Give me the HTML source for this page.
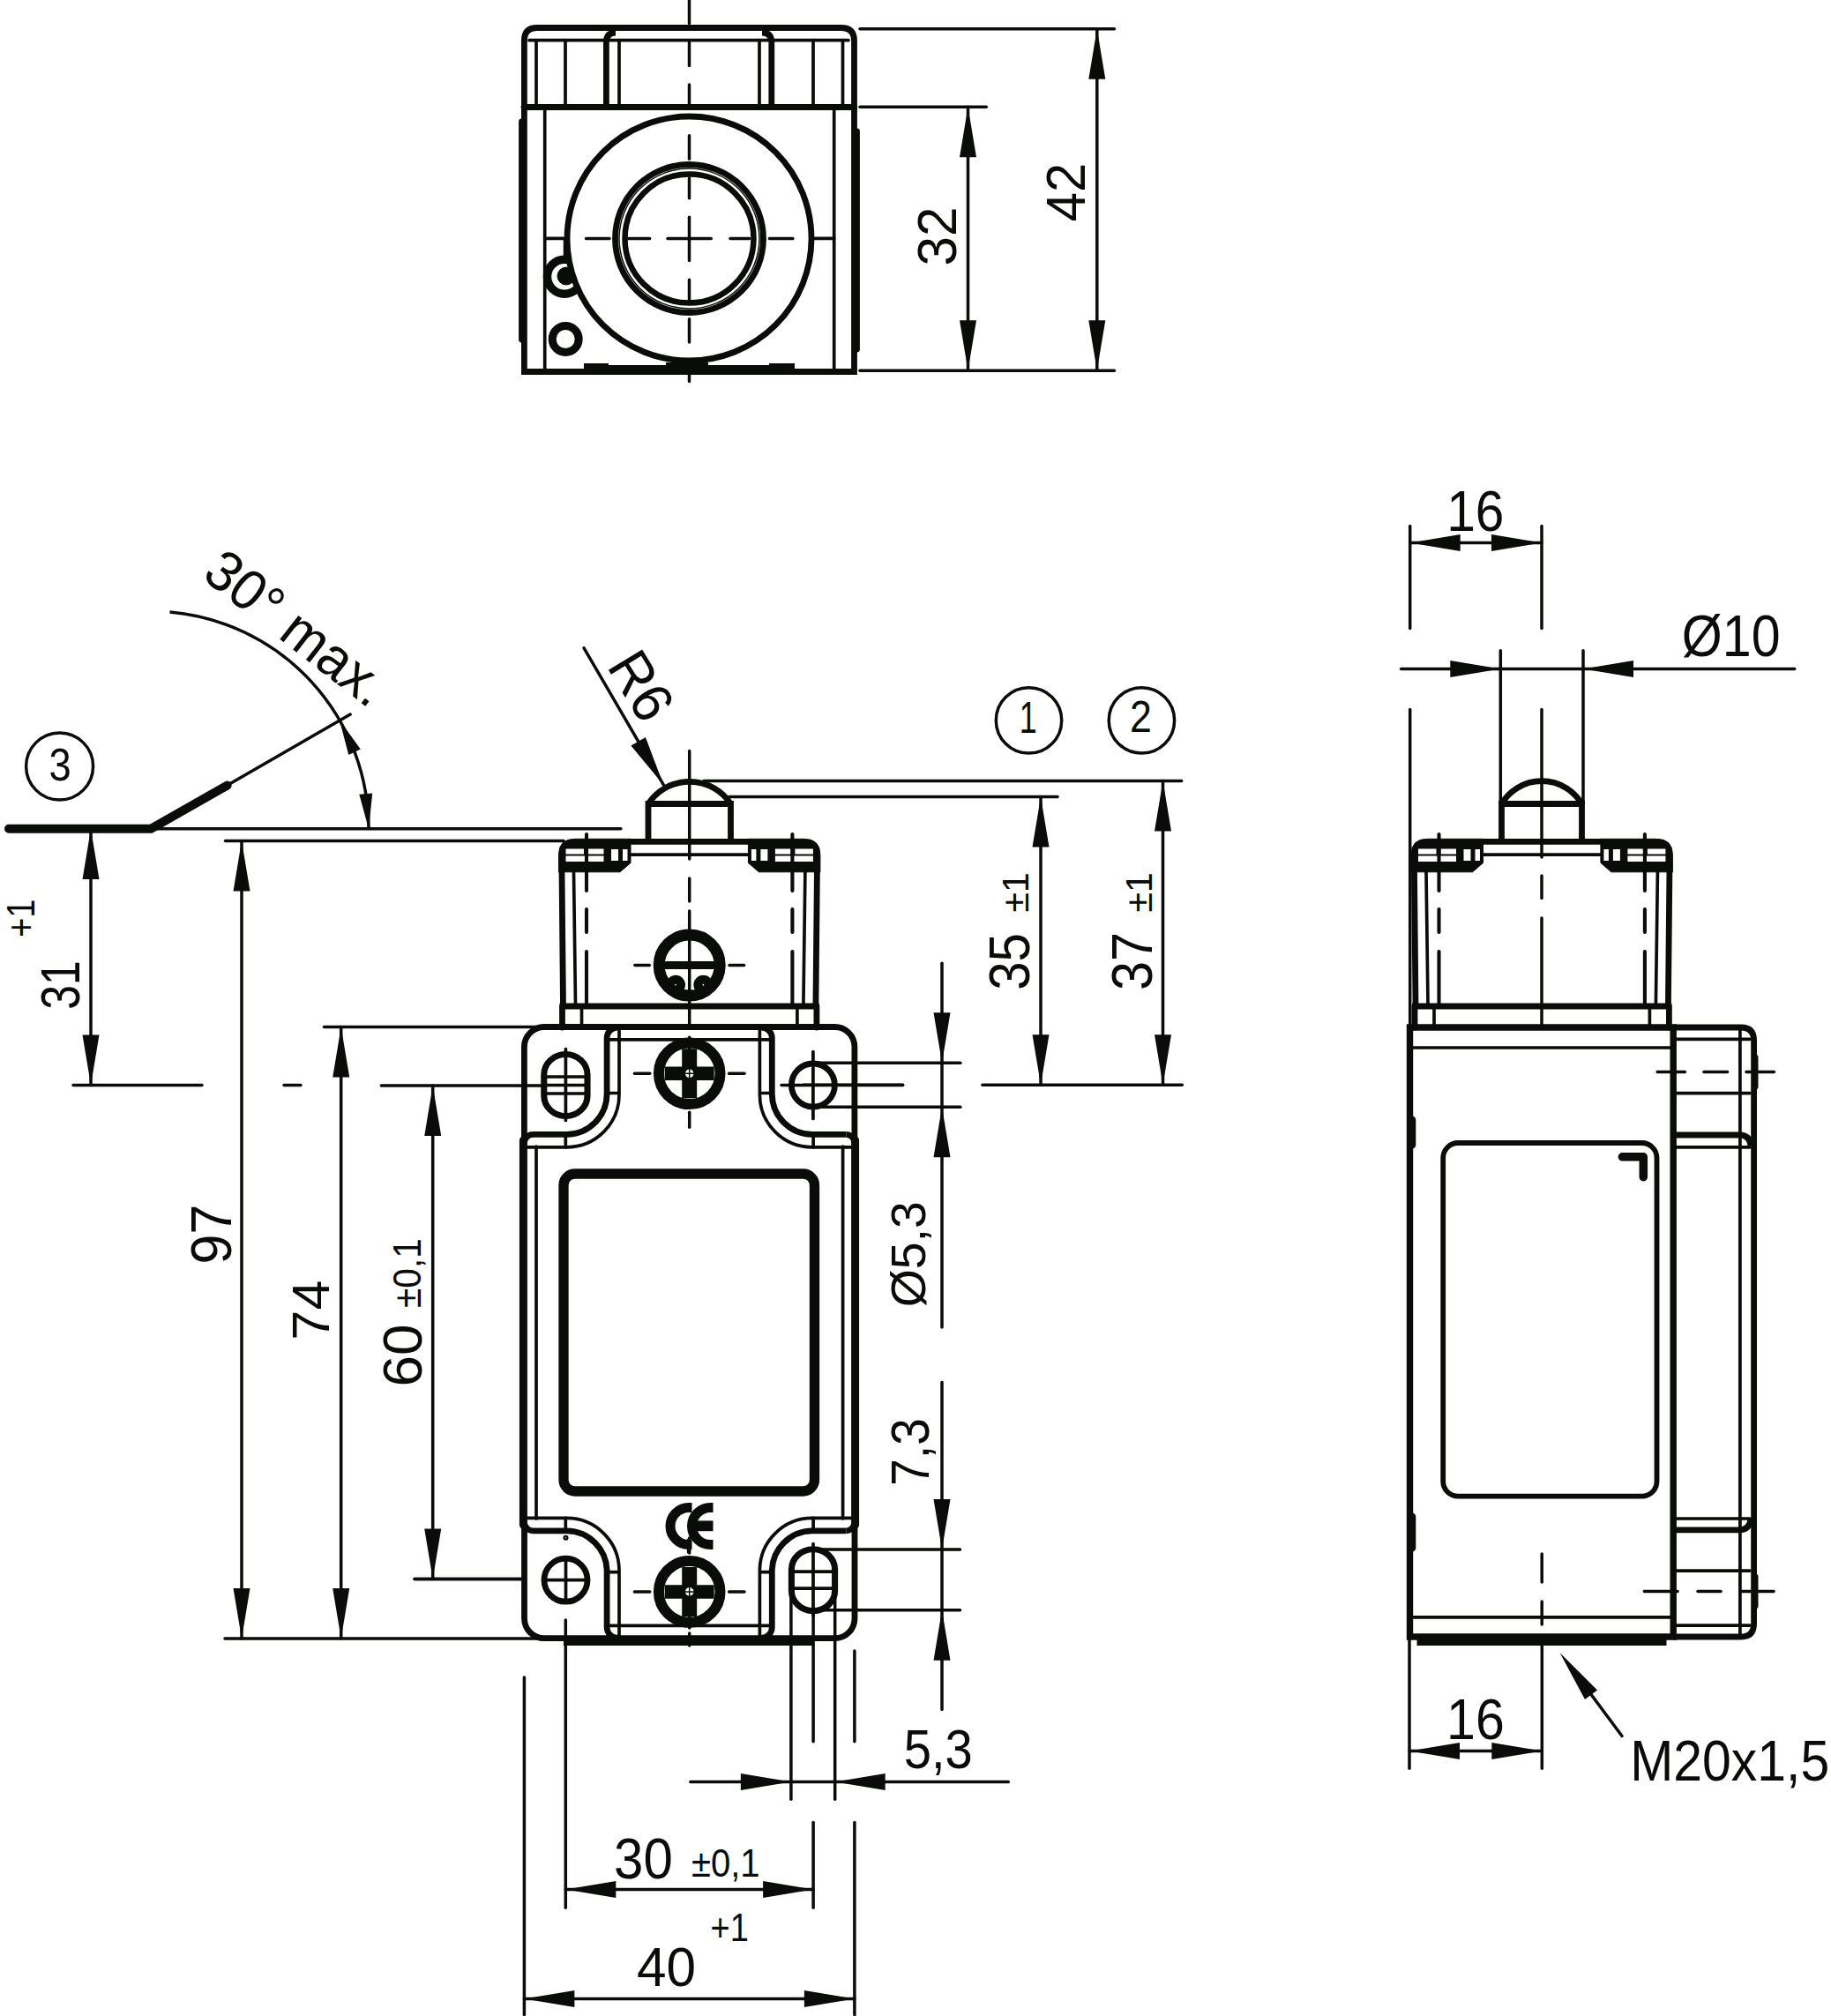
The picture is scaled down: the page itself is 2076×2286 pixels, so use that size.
<!DOCTYPE html><html><head><meta charset="utf-8"><style>html,body{margin:0;padding:0;background:#fff;}svg{display:block} text{font-family:"Liberation Sans",sans-serif;fill:#0a0c0a;stroke:none}</style></head><body>
<svg width="2076" height="2286" viewBox="0 0 2076 2286"><g stroke="#0a0c0a" fill="none">
<rect x="0" y="0" width="2076" height="2286" fill="#fff" stroke="none"/>
<path d="M594.4,121.5 L594.4,46 Q594.4,31.5 609,31.5 L953.5,31.5 Q968.5,31.5 968.5,46 L968.5,421.5 L594.4,421.5 Z" stroke-width="6.8" fill="none" />
<line x1="594.0" y1="121.5" x2="968.5" y2="121.5" stroke-width="6.8" stroke-linecap="round"/>
<line x1="600.0" y1="45.7" x2="962.0" y2="45.7" stroke-width="3.7" stroke-linecap="round"/>
<line x1="608.0" y1="45.7" x2="608.0" y2="121.5" stroke-width="3.7" stroke-linecap="round"/>
<line x1="641.0" y1="45.7" x2="641.0" y2="121.5" stroke-width="3.7" stroke-linecap="round"/>
<line x1="702.0" y1="45.7" x2="702.0" y2="121.5" stroke-width="3.7" stroke-linecap="round"/>
<line x1="861.0" y1="45.7" x2="861.0" y2="121.5" stroke-width="3.7" stroke-linecap="round"/>
<line x1="922.0" y1="45.7" x2="922.0" y2="121.5" stroke-width="3.7" stroke-linecap="round"/>
<line x1="955.5" y1="45.7" x2="955.5" y2="121.5" stroke-width="3.7" stroke-linecap="round"/>
<path d="M687.4,121.5 L687.4,48 Q687.4,37 698,37" stroke-width="6.8" fill="none" />
<path d="M874.8,121.5 L874.8,48 Q874.8,37 864,37" stroke-width="6.8" fill="none" />
<line x1="591.5" y1="138.0" x2="591.5" y2="385.0" stroke-width="6.8" stroke-linecap="round"/>
<line x1="971.5" y1="149.0" x2="971.5" y2="396.0" stroke-width="6.8" stroke-linecap="round"/>
<line x1="617.7" y1="121.5" x2="617.7" y2="421.5" stroke-width="3.7" stroke-linecap="round"/>
<line x1="945.7" y1="121.5" x2="945.7" y2="421.5" stroke-width="3.7" stroke-linecap="round"/>
<line x1="617.7" y1="270.4" x2="640.0" y2="270.4" stroke-width="3.7" stroke-linecap="round"/>
<line x1="923.0" y1="270.4" x2="945.7" y2="270.4" stroke-width="3.7" stroke-linecap="round"/>
<circle cx="640.0" cy="313.7" r="19.5" stroke-width="9.5" fill="none"/>
<circle cx="642.0" cy="313.0" r="10.0" stroke-width="1" fill="#0a0c0a"/>
<line x1="642.0" y1="270.0" x2="642.0" y2="291.0" stroke-width="6.5" stroke-linecap="butt"/>
<circle cx="641.2" cy="384.5" r="15.0" stroke-width="9" fill="none"/>
<circle cx="781.5" cy="270.5" r="138.5" stroke-width="6.8" fill="#fff"/>
<circle cx="781.5" cy="270.5" r="84.0" stroke-width="6.8" fill="none"/>
<circle cx="781.5" cy="270.5" r="73.0" stroke-width="6.5" fill="none"/>
<circle cx="781.5" cy="270.5" r="79.5" stroke-width="1.5" fill="none"/>
<rect x="662.0" y="414.0" width="238.0" height="7.0" fill="#0a0c0a" stroke="none"/>
<rect x="662.0" y="412.0" width="28.0" height="10.0" fill="#0a0c0a" stroke="none"/>
<rect x="872.0" y="412.0" width="29.0" height="10.0" fill="#0a0c0a" stroke="none"/>
<rect x="755.0" y="411.0" width="48.0" height="11.0" fill="#0a0c0a" stroke="none"/>
<line x1="781.5" y1="0.0" x2="781.5" y2="26.4" stroke-width="3.5" stroke-linecap="round"/>
<line x1="781.5" y1="48.0" x2="781.5" y2="74.5" stroke-width="3.5" stroke-linecap="round"/>
<line x1="781.5" y1="96.0" x2="781.5" y2="122.6" stroke-width="3.5" stroke-linecap="round"/>
<line x1="781.5" y1="153.8" x2="781.5" y2="180.2" stroke-width="3.5" stroke-linecap="round"/>
<line x1="781.5" y1="201.9" x2="781.5" y2="224.7" stroke-width="3.5" stroke-linecap="round"/>
<line x1="781.5" y1="246.3" x2="781.5" y2="295.6" stroke-width="3.5" stroke-linecap="round"/>
<line x1="781.5" y1="317.2" x2="781.5" y2="340.0" stroke-width="3.5" stroke-linecap="round"/>
<line x1="781.5" y1="361.7" x2="781.5" y2="388.1" stroke-width="3.5" stroke-linecap="round"/>
<line x1="781.5" y1="408.6" x2="781.5" y2="432.6" stroke-width="3.5" stroke-linecap="round"/>
<line x1="664.5" y1="270.5" x2="691.0" y2="270.5" stroke-width="3.5" stroke-linecap="round"/>
<line x1="712.6" y1="270.5" x2="736.6" y2="270.5" stroke-width="3.5" stroke-linecap="round"/>
<line x1="757.0" y1="270.5" x2="806.3" y2="270.5" stroke-width="3.5" stroke-linecap="round"/>
<line x1="828.0" y1="270.5" x2="849.6" y2="270.5" stroke-width="3.5" stroke-linecap="round"/>
<line x1="872.4" y1="270.5" x2="898.9" y2="270.5" stroke-width="3.5" stroke-linecap="round"/>
<line x1="975.0" y1="32.7" x2="1263.4" y2="32.7" stroke-width="3.5" stroke-linecap="round"/>
<line x1="975.0" y1="121.2" x2="1118.3" y2="121.2" stroke-width="3.5" stroke-linecap="round"/>
<line x1="975.0" y1="420.2" x2="1263.4" y2="420.2" stroke-width="3.5" stroke-linecap="round"/>
<line x1="1097.5" y1="121.2" x2="1097.5" y2="420.2" stroke-width="3.5" stroke-linecap="round"/>
<path d="M1097.5,121.2 L1107.0,178.2 L1088.0,178.2 Z" fill="#0a0c0a" stroke="none"/>
<path d="M1097.5,420.2 L1088.0,363.2 L1107.0,363.2 Z" fill="#0a0c0a" stroke="none"/>
<line x1="1243.8" y1="32.7" x2="1243.8" y2="420.2" stroke-width="3.5" stroke-linecap="round"/>
<path d="M1243.8,32.7 L1253.3,89.7 L1234.3,89.7 Z" fill="#0a0c0a" stroke="none"/>
<path d="M1243.8,420.2 L1234.3,363.2 L1253.3,363.2 Z" fill="#0a0c0a" stroke="none"/>
<text transform="translate(1062.50,268.00) rotate(-90) scale(0.9649,1)" font-size="62.38" text-anchor="middle" dominant-baseline="central">32</text>
<text transform="translate(1208.50,218.00) rotate(-90) scale(0.9526,1)" font-size="62.72" text-anchor="middle" dominant-baseline="central">42</text>
<path d="M10,939.8 L171,939.8 L257.6,890.6" stroke-width="10" fill="none" stroke-linecap="round" stroke-linejoin="round"/>
<line x1="257.6" y1="890.6" x2="397.2" y2="810.0" stroke-width="3.5" stroke-linecap="round"/>
<line x1="171.0" y1="939.8" x2="703.9" y2="939.8" stroke-width="3.5" stroke-linecap="round"/>
<path d="M192.5,693.9 A247,247 0 0 1 418.0,940.0" stroke-width="3.5" fill="none" />
<path d="M384.9,816.5 L408.8,849.4 L395.3,855.9 Z" fill="#0a0c0a" stroke="none"/>
<path d="M418.0,940.0 L407.3,900.7 L422.2,899.5 Z" fill="#0a0c0a" stroke="none"/>
<circle cx="67.6" cy="869.0" r="38.0" stroke-width="3.5" fill="none"/>
<text transform="translate(68.00,866.70) rotate(0) scale(0.8591,1)" font-size="52.64" text-anchor="middle" dominant-baseline="central">3</text>
<text transform="translate(337.05,711.70) rotate(38) scale(0.9500,1)" font-size="64.54" text-anchor="middle" dominant-baseline="central">30° max.</text>
<line x1="103.0" y1="940.0" x2="103.0" y2="1230.5" stroke-width="3.5" stroke-linecap="round"/>
<path d="M103.0,940.0 L112.5,997.0 L93.5,997.0 Z" fill="#0a0c0a" stroke="none"/>
<path d="M103.0,1230.5 L93.5,1173.5 L112.5,1173.5 Z" fill="#0a0c0a" stroke="none"/>
<line x1="83.0" y1="1230.5" x2="229.0" y2="1230.5" stroke-width="3.5" stroke-linecap="round"/>
<text transform="translate(68.30,1116.90) rotate(-90) scale(0.7964,1)" font-size="62.72" text-anchor="middle" dominant-baseline="central">31</text>
<text transform="translate(23.90,1041.20) rotate(-90) scale(0.8562,1)" font-size="44.34" text-anchor="middle" dominant-baseline="central">+1</text>
<line x1="255.6" y1="953.6" x2="639.0" y2="953.6" stroke-width="3.5" stroke-linecap="round"/>
<line x1="274.0" y1="953.6" x2="274.0" y2="1858.0" stroke-width="3.5" stroke-linecap="round"/>
<path d="M274.0,953.6 L283.5,1010.6 L264.5,1010.6 Z" fill="#0a0c0a" stroke="none"/>
<path d="M274.0,1858.0 L264.5,1801.0 L283.5,1801.0 Z" fill="#0a0c0a" stroke="none"/>
<line x1="255.0" y1="1858.0" x2="618.0" y2="1858.0" stroke-width="3.5" stroke-linecap="round"/>
<text transform="translate(239.10,1399.60) rotate(-90) scale(0.9488,1)" font-size="64.11" text-anchor="middle" dominant-baseline="central">97</text>
<line x1="367.5" y1="1164.5" x2="612.0" y2="1164.5" stroke-width="3.5" stroke-linecap="round"/>
<line x1="386.7" y1="1164.5" x2="386.7" y2="1858.0" stroke-width="3.5" stroke-linecap="round"/>
<path d="M386.7,1164.5 L396.2,1221.5 L377.2,1221.5 Z" fill="#0a0c0a" stroke="none"/>
<path d="M386.7,1858.0 L377.2,1801.0 L396.2,1801.0 Z" fill="#0a0c0a" stroke="none"/>
<text transform="translate(352.60,1485.50) rotate(-90) scale(1.0405,1)" font-size="58.59" text-anchor="middle" dominant-baseline="central">74</text>
<line x1="432.3" y1="1231.0" x2="616.0" y2="1231.0" stroke-width="3.5" stroke-linecap="round"/>
<line x1="490.7" y1="1231.0" x2="490.7" y2="1790.5" stroke-width="3.5" stroke-linecap="round"/>
<path d="M490.7,1231.0 L500.2,1288.0 L481.2,1288.0 Z" fill="#0a0c0a" stroke="none"/>
<path d="M490.7,1790.5 L481.2,1733.5 L500.2,1733.5 Z" fill="#0a0c0a" stroke="none"/>
<line x1="470.0" y1="1790.5" x2="593.0" y2="1790.5" stroke-width="3.5" stroke-linecap="round"/>
<text transform="translate(456.10,1537.00) rotate(-90) scale(1.0049,1)" font-size="63.60" text-anchor="middle" dominant-baseline="central">60</text>
<text transform="translate(461.60,1443.60) rotate(-90) scale(0.9310,1)" font-size="43.59" text-anchor="middle" dominant-baseline="central">±0,1</text>
<line x1="322.0" y1="1230.5" x2="341.0" y2="1230.5" stroke-width="3.5" stroke-linecap="round"/>
<path d="M735,953.5 L735,911.5 L828.5,911.5 L828.5,953.5" stroke-width="6.8" fill="none" />
<path d="M735,911.5 A56,56 0 0 1 828.5,911.5" stroke-width="6.8" fill="none" />
<line x1="781.7" y1="851.4" x2="781.7" y2="974.0" stroke-width="3.5" stroke-linecap="round"/>
<line x1="662.1" y1="734.8" x2="752.3" y2="889.9" stroke-width="3.5" stroke-linecap="round"/>
<path d="M752.3,889.9 L715.4,845.4 L731.9,835.9 Z" fill="#0a0c0a" stroke="none"/>
<text transform="translate(727.70,777.25) rotate(58.5) scale(0.9500,1)" font-size="65.13" text-anchor="middle" dominant-baseline="central">R6</text>
<line x1="798.0" y1="885.5" x2="1339.6" y2="885.5" stroke-width="3.5" stroke-linecap="round"/>
<line x1="826.8" y1="903.4" x2="1199.0" y2="903.4" stroke-width="3.5" stroke-linecap="round"/>
<circle cx="1166.5" cy="816.9" r="37.2" stroke-width="3.5" fill="none"/>
<circle cx="1294.4" cy="816.9" r="37.2" stroke-width="3.5" fill="none"/>
<text transform="translate(1165.70,814.00) rotate(0) scale(0.7260,1)" font-size="49.46" text-anchor="middle" dominant-baseline="central">1</text>
<text transform="translate(1293.50,812.70) rotate(0) scale(0.8889,1)" font-size="50.34" text-anchor="middle" dominant-baseline="central">2</text>
<line x1="1113.9" y1="1230.3" x2="1340.3" y2="1230.3" stroke-width="3.5" stroke-linecap="round"/>
<line x1="1180.0" y1="903.4" x2="1180.0" y2="1230.3" stroke-width="3.5" stroke-linecap="round"/>
<path d="M1180.0,903.4 L1189.5,960.4 L1170.5,960.4 Z" fill="#0a0c0a" stroke="none"/>
<path d="M1180.0,1230.3 L1170.5,1173.3 L1189.5,1173.3 Z" fill="#0a0c0a" stroke="none"/>
<line x1="1318.5" y1="885.5" x2="1318.5" y2="1230.3" stroke-width="3.5" stroke-linecap="round"/>
<path d="M1318.5,885.5 L1328.0,942.5 L1309.0,942.5 Z" fill="#0a0c0a" stroke="none"/>
<path d="M1318.5,1230.3 L1309.0,1173.3 L1328.0,1173.3 Z" fill="#0a0c0a" stroke="none"/>
<text transform="translate(1144.50,1090.50) rotate(-90) scale(0.8990,1)" font-size="64.74" text-anchor="middle" dominant-baseline="central">35</text>
<text transform="translate(1151.50,1011.90) rotate(-90) scale(0.9469,1)" font-size="43.15" text-anchor="middle" dominant-baseline="central">±1</text>
<text transform="translate(1283.90,1089.90) rotate(-90) scale(0.9174,1)" font-size="64.74" text-anchor="middle" dominant-baseline="central">37</text>
<text transform="translate(1290.90,1011.90) rotate(-90) scale(0.9469,1)" font-size="43.15" text-anchor="middle" dominant-baseline="central">±1</text>
<line x1="911.0" y1="1230.3" x2="1023.6" y2="1230.3" stroke-width="3.5" stroke-linecap="round"/>
<path d="M633.5,988.8 L633.5,969 Q633.5,951.3 652.0,951.3 L715.0,951.3 L715.0,978.4 L703.0,988.8 Z" stroke-width="1" fill="#0a0c0a" />
<rect x="641.5" y="962.5" width="20.5" height="6.0" fill="#fff" stroke="none"/>
<rect x="667.0" y="962.5" width="17.5" height="6.0" fill="#fff" stroke="none"/>
<rect x="641.5" y="970.5" width="43.0" height="6.5" fill="#fff" stroke="none"/>
<rect x="693.0" y="963.0" width="8.0" height="13.0" fill="#fff" stroke="none"/>
<rect x="706.0" y="963.0" width="5.5" height="13.0" fill="#fff" stroke="none"/>
<line x1="637.0" y1="988.0" x2="638.5" y2="1141.0" stroke-width="6.8" stroke-linecap="round"/>
<line x1="650.5" y1="989.0" x2="652.5" y2="1139.0" stroke-width="3.7" stroke-linecap="round"/>
<line x1="665.0" y1="946.0" x2="665.0" y2="1010.0" stroke-width="4.1" stroke-linecap="round"/>
<line x1="665.0" y1="1031.0" x2="665.0" y2="1057.0" stroke-width="4.1" stroke-linecap="round"/>
<line x1="665.0" y1="1079.0" x2="665.0" y2="1139.0" stroke-width="4.1" stroke-linecap="round"/>
<line x1="637.5" y1="1141.0" x2="637.5" y2="1165.0" stroke-width="6.8" stroke-linecap="round"/>
<line x1="659.5" y1="1141.0" x2="659.5" y2="1165.0" stroke-width="3.7" stroke-linecap="round"/>
<path d="M929.9,988.8 L929.9,969 Q929.9,951.3 911.4,951.3 L848.4,951.3 L848.4,978.4 L860.4,988.8 Z" stroke-width="1" fill="#0a0c0a" />
<rect x="901.4" y="962.5" width="20.5" height="6.0" fill="#fff" stroke="none"/>
<rect x="878.9" y="962.5" width="17.5" height="6.0" fill="#fff" stroke="none"/>
<rect x="878.9" y="970.5" width="43.0" height="6.5" fill="#fff" stroke="none"/>
<rect x="862.4" y="963.0" width="8.0" height="13.0" fill="#fff" stroke="none"/>
<rect x="851.9" y="963.0" width="5.5" height="13.0" fill="#fff" stroke="none"/>
<line x1="926.4" y1="988.0" x2="924.9" y2="1141.0" stroke-width="6.8" stroke-linecap="round"/>
<line x1="912.9" y1="989.0" x2="910.9" y2="1139.0" stroke-width="3.7" stroke-linecap="round"/>
<line x1="898.4" y1="946.0" x2="898.4" y2="1010.0" stroke-width="4.1" stroke-linecap="round"/>
<line x1="898.4" y1="1031.0" x2="898.4" y2="1057.0" stroke-width="4.1" stroke-linecap="round"/>
<line x1="898.4" y1="1079.0" x2="898.4" y2="1139.0" stroke-width="4.1" stroke-linecap="round"/>
<line x1="925.9" y1="1141.0" x2="925.9" y2="1165.0" stroke-width="6.8" stroke-linecap="round"/>
<line x1="903.9" y1="1141.0" x2="903.9" y2="1165.0" stroke-width="3.7" stroke-linecap="round"/>
<line x1="715.7" y1="954.3" x2="847.7" y2="954.3" stroke-width="6.8" stroke-linecap="round"/>
<line x1="715.7" y1="969.1" x2="847.7" y2="969.1" stroke-width="3.7" stroke-linecap="round"/>
<line x1="634.7" y1="1141.0" x2="928.7" y2="1141.0" stroke-width="6.8" stroke-linecap="butt"/>
<line x1="781.7" y1="996.0" x2="781.7" y2="1022.0" stroke-width="3.5" stroke-linecap="round"/>
<line x1="781.7" y1="1033.0" x2="781.7" y2="1053.0" stroke-width="3.5" stroke-linecap="round"/>
<circle cx="781.7" cy="1094.6" r="34.5" stroke-width="13" fill="none"/>
<line x1="755.7" y1="1094.6" x2="808.0" y2="1094.6" stroke-width="9" stroke-linecap="round"/>
<line x1="781.7" y1="1060.0" x2="781.7" y2="1166.0" stroke-width="3.5" stroke-linecap="round"/>
<circle cx="766.0" cy="1116.8" r="8.0" stroke-width="6" fill="#0a0c0a"/>
<circle cx="797.4" cy="1116.8" r="8.0" stroke-width="6" fill="#0a0c0a"/>
<circle cx="766.0" cy="1116.8" r="1.3" stroke-width="1" fill="#fff"/>
<circle cx="797.4" cy="1116.8" r="1.3" stroke-width="1" fill="#fff"/>
<line x1="719.8" y1="1094.6" x2="736.3" y2="1094.6" stroke-width="3.5" stroke-linecap="round"/>
<line x1="827.0" y1="1094.6" x2="843.6" y2="1094.6" stroke-width="3.5" stroke-linecap="round"/>
<path d="M604.0,1286.4 L642.5,1286.4 A46,46 0 0 0 688.1,1240.0 L688.1,1177.0 A12,12 0 0 1 700.0,1165.0" stroke-width="6.8" fill="none" />
<path d="M604.0,1286.4 A10,10 0 0 0 594.4,1296.0" stroke-width="6.8" fill="none" />
<path d="M596.8,1300.8 L642.5,1300.8 A59.5,59.5 0 0 0 702.0,1241.3 L702.0,1165.0" stroke-width="3.7" fill="none" />
<line x1="691.0" y1="1239.5" x2="701.0" y2="1239.5" stroke-width="3.7" stroke-linecap="round"/>
<line x1="641.3" y1="1286.0" x2="641.3" y2="1300.8" stroke-width="3.7" stroke-linecap="round"/>
<path d="M959.4,1286.4 L920.9,1286.4 A46,46 0 0 1 875.3,1240.0 L875.3,1177.0 A12,12 0 0 0 863.4,1165.0" stroke-width="6.8" fill="none" />
<path d="M959.4,1286.4 A10,10 0 0 1 969.0,1296.0" stroke-width="6.8" fill="none" />
<path d="M966.6,1300.8 L920.9,1300.8 A59.5,59.5 0 0 1 861.4,1241.3 L861.4,1165.0" stroke-width="3.7" fill="none" />
<line x1="872.4" y1="1239.5" x2="862.4" y2="1239.5" stroke-width="3.7" stroke-linecap="round"/>
<line x1="922.1" y1="1286.0" x2="922.1" y2="1300.8" stroke-width="3.7" stroke-linecap="round"/>
<path d="M594.4,1293.0 L594.4,1187.0 A22.5,22.5 0 0 1 617.0,1164.5 L946.0,1164.5 A22.5,22.5 0 0 1 968.9,1187.0 L968.9,1293.0" stroke-width="6.8" fill="none" />
<path d="M616.8,1218.5 A24.6,23 0 0 1 666.0,1218.5 L666.0,1242.5 A24.6,23 0 0 1 616.8,1242.5 Z" stroke-width="7.1" fill="none" />
<line x1="619.4" y1="1221.0" x2="663.4" y2="1221.0" stroke-width="3.7" stroke-linecap="round"/>
<line x1="619.4" y1="1230.5" x2="663.4" y2="1230.5" stroke-width="3.7" stroke-linecap="round"/>
<line x1="619.4" y1="1240.0" x2="663.4" y2="1240.0" stroke-width="3.7" stroke-linecap="round"/>
<line x1="641.4" y1="1189.5" x2="641.4" y2="1270.5" stroke-width="3.7" stroke-linecap="round"/>
<circle cx="921.9" cy="1230.5" r="24.5" stroke-width="6.8" fill="none"/>
<line x1="921.9" y1="1192.5" x2="921.9" y2="1204.5" stroke-width="3.7" stroke-linecap="round"/>
<line x1="921.9" y1="1210.5" x2="921.9" y2="1250.5" stroke-width="3.7" stroke-linecap="round"/>
<line x1="921.9" y1="1256.5" x2="921.9" y2="1268.5" stroke-width="3.7" stroke-linecap="round"/>
<circle cx="781.7" cy="1217.3" r="34.8" stroke-width="12" fill="none"/>
<line x1="753.7" y1="1217.3" x2="809.7" y2="1217.3" stroke-width="15.5" stroke-linecap="butt"/>
<line x1="781.7" y1="1189.3" x2="781.7" y2="1245.3" stroke-width="17" stroke-linecap="butt"/>
<circle cx="781.7" cy="1217.3" r="5.7" stroke-width="1.8" fill="#fff"/>
<line x1="776.7" y1="1217.3" x2="786.7" y2="1217.3" stroke-width="1.5" stroke-linecap="round"/>
<line x1="781.7" y1="1212.3" x2="781.7" y2="1222.3" stroke-width="1.5" stroke-linecap="round"/>
<line x1="719.4" y1="1217.3" x2="736.8" y2="1217.3" stroke-width="3.5" stroke-linecap="round"/>
<line x1="826.6" y1="1217.3" x2="844.0" y2="1217.3" stroke-width="3.5" stroke-linecap="round"/>
<line x1="781.7" y1="1176.3" x2="781.7" y2="1193.3" stroke-width="3.5" stroke-linecap="round"/>
<line x1="781.7" y1="1261.3" x2="781.7" y2="1278.3" stroke-width="3.5" stroke-linecap="round"/>
<line x1="691.0" y1="1178.8" x2="872.4" y2="1178.8" stroke-width="3.7" stroke-linecap="round"/>
<path d="M959.4,1735.8 L920.9,1735.8 A46,46 0 0 0 875.3,1782.2 L875.3,1845.2 A12,12 0 0 1 863.4,1857.2" stroke-width="6.8" fill="none" />
<path d="M959.4,1735.8 A10,10 0 0 0 969.0,1726.2" stroke-width="6.8" fill="none" />
<path d="M966.6,1721.4 L920.9,1721.4 A59.5,59.5 0 0 0 861.4,1780.9 L861.4,1857.2" stroke-width="3.7" fill="none" />
<line x1="872.4" y1="1782.7" x2="862.4" y2="1782.7" stroke-width="3.7" stroke-linecap="round"/>
<line x1="922.1" y1="1736.2" x2="922.1" y2="1721.4" stroke-width="3.7" stroke-linecap="round"/>
<path d="M604.0,1735.8 L642.5,1735.8 A46,46 0 0 1 688.1,1782.2 L688.1,1845.2 A12,12 0 0 0 700.0,1857.2" stroke-width="6.8" fill="none" />
<path d="M604.0,1735.8 A10,10 0 0 1 594.4,1726.2" stroke-width="6.8" fill="none" />
<path d="M596.8,1721.4 L642.5,1721.4 A59.5,59.5 0 0 1 702.0,1780.9 L702.0,1857.2" stroke-width="3.7" fill="none" />
<line x1="691.0" y1="1782.7" x2="701.0" y2="1782.7" stroke-width="3.7" stroke-linecap="round"/>
<line x1="641.3" y1="1736.2" x2="641.3" y2="1721.4" stroke-width="3.7" stroke-linecap="round"/>
<path d="M969.0,1729.2 L969.0,1835.2 A22.5,22.5 0 0 1 946.4,1857.7 L617.4,1857.7 A22.5,22.5 0 0 1 594.5,1835.2 L594.5,1729.2" stroke-width="6.8" fill="none" />
<path d="M897.4,1779.7 A24.6,23 0 0 1 946.6,1779.7 L946.6,1803.7 A24.6,23 0 0 1 897.4,1803.7 Z" stroke-width="7.1" fill="none" />
<line x1="900.0" y1="1782.2" x2="944.0" y2="1782.2" stroke-width="3.7" stroke-linecap="round"/>
<line x1="900.0" y1="1801.2" x2="944.0" y2="1801.2" stroke-width="3.7" stroke-linecap="round"/>
<line x1="922.0" y1="1750.7" x2="922.0" y2="1831.7" stroke-width="3.7" stroke-linecap="round"/>
<circle cx="641.5" cy="1791.7" r="24.5" stroke-width="6.8" fill="none"/>
<line x1="619.5" y1="1791.7" x2="663.5" y2="1791.7" stroke-width="3.7" stroke-linecap="round"/>
<line x1="641.5" y1="1769.7" x2="641.5" y2="1813.7" stroke-width="3.7" stroke-linecap="round"/>
<circle cx="641.5" cy="1743.7" r="1.2" stroke-width="3.7" fill="none"/>
<circle cx="781.7" cy="1804.9" r="34.8" stroke-width="12" fill="none"/>
<line x1="753.7" y1="1804.9" x2="809.7" y2="1804.9" stroke-width="15.5" stroke-linecap="butt"/>
<line x1="781.7" y1="1776.9" x2="781.7" y2="1832.9" stroke-width="17" stroke-linecap="butt"/>
<circle cx="781.7" cy="1804.9" r="5.7" stroke-width="1.8" fill="#fff"/>
<line x1="776.7" y1="1804.9" x2="786.7" y2="1804.9" stroke-width="1.5" stroke-linecap="round"/>
<line x1="781.7" y1="1799.9" x2="781.7" y2="1809.9" stroke-width="1.5" stroke-linecap="round"/>
<line x1="719.4" y1="1804.9" x2="736.8" y2="1804.9" stroke-width="3.5" stroke-linecap="round"/>
<line x1="826.6" y1="1804.9" x2="844.0" y2="1804.9" stroke-width="3.5" stroke-linecap="round"/>
<line x1="781.7" y1="1743.9" x2="781.7" y2="1760.9" stroke-width="3.5" stroke-linecap="round"/>
<line x1="781.7" y1="1828.9" x2="781.7" y2="1845.9" stroke-width="3.5" stroke-linecap="round"/>
<line x1="872.4" y1="1843.4" x2="691.0" y2="1843.4" stroke-width="3.7" stroke-linecap="round"/>
<line x1="593.4" y1="1293.0" x2="593.4" y2="1729.0" stroke-width="9" stroke-linecap="round"/>
<line x1="969.6" y1="1293.0" x2="969.6" y2="1729.0" stroke-width="9" stroke-linecap="round"/>
<line x1="608.0" y1="1300.0" x2="608.0" y2="1722.0" stroke-width="3.7" stroke-linecap="round"/>
<line x1="955.6" y1="1300.0" x2="955.6" y2="1722.0" stroke-width="3.7" stroke-linecap="round"/>
<rect x="639" y="1331" width="284.5" height="360" rx="13" ry="13" stroke-width="11.3" fill="none"/>
<rect x="639.0" y="1855.5" width="284.0" height="10.5" fill="#0a0c0a" stroke="none"/>
<path d="M784.5,1709.5 L781,1709.5 A21,21 0 0 0 781,1751.5 L784.5,1751.5" stroke-width="11" fill="none" stroke-linejoin="round"/>
<path d="M808.5,1709.5 L805.5,1709.5 A21,21 0 0 0 805.5,1751.5 L808.5,1751.5" stroke-width="11" fill="none" stroke-linejoin="round"/>
<line x1="790.0" y1="1730.3" x2="808.5" y2="1730.3" stroke-width="11.8" stroke-linecap="butt"/>
<line x1="780.7" y1="1746.0" x2="780.7" y2="1760.0" stroke-width="3.7" stroke-linecap="round"/>
<line x1="781.7" y1="1852.0" x2="781.7" y2="1866.0" stroke-width="3.5" stroke-linecap="round"/>
<line x1="927.0" y1="1205.3" x2="1088.9" y2="1205.3" stroke-width="3.5" stroke-linecap="round"/>
<line x1="927.0" y1="1255.3" x2="1088.9" y2="1255.3" stroke-width="3.5" stroke-linecap="round"/>
<line x1="886.0" y1="1230.5" x2="1023.6" y2="1230.5" stroke-width="3.5" stroke-linecap="round"/>
<line x1="1068.0" y1="1092.2" x2="1068.0" y2="1255.3" stroke-width="3.5" stroke-linecap="round"/>
<path d="M1068.0,1205.3 L1058.5,1148.3 L1077.5,1148.3 Z" fill="#0a0c0a" stroke="none"/>
<line x1="1068.0" y1="1255.3" x2="1068.0" y2="1505.0" stroke-width="3.5" stroke-linecap="round"/>
<path d="M1068.0,1255.3 L1077.5,1312.3 L1058.5,1312.3 Z" fill="#0a0c0a" stroke="none"/>
<text transform="translate(1029.90,1422.30) rotate(-90) scale(0.9905,1)" font-size="55.93" text-anchor="middle" dominant-baseline="central">Ø5,3</text>
<line x1="1068.0" y1="1567.5" x2="1068.0" y2="1825.8" stroke-width="3.5" stroke-linecap="round"/>
<path d="M1068.0,1757.0 L1058.5,1700.0 L1077.5,1700.0 Z" fill="#0a0c0a" stroke="none"/>
<line x1="930.0" y1="1757.0" x2="1088.5" y2="1757.0" stroke-width="3.5" stroke-linecap="round"/>
<line x1="930.0" y1="1825.8" x2="1088.5" y2="1825.8" stroke-width="3.5" stroke-linecap="round"/>
<line x1="1068.0" y1="1825.8" x2="1068.0" y2="1938.5" stroke-width="3.5" stroke-linecap="round"/>
<path d="M1068.0,1825.8 L1077.5,1882.8 L1058.5,1882.8 Z" fill="#0a0c0a" stroke="none"/>
<text transform="translate(1031.50,1646.50) rotate(-90) scale(0.8899,1)" font-size="61.70" text-anchor="middle" dominant-baseline="central">7,3</text>
<line x1="594.4" y1="1902.0" x2="594.4" y2="2284.4" stroke-width="3.5" stroke-linecap="round"/>
<line x1="641.3" y1="1837.0" x2="641.3" y2="2163.2" stroke-width="3.5" stroke-linecap="round"/>
<line x1="896.9" y1="1810.0" x2="896.9" y2="2040.3" stroke-width="3.5" stroke-linecap="round"/>
<line x1="946.7" y1="1808.0" x2="946.7" y2="2040.3" stroke-width="3.5" stroke-linecap="round"/>
<line x1="922.1" y1="1826.0" x2="922.1" y2="1974.7" stroke-width="3.5" stroke-linecap="round"/>
<line x1="922.1" y1="2066.5" x2="922.1" y2="2163.2" stroke-width="3.5" stroke-linecap="round"/>
<line x1="968.9" y1="1872.0" x2="968.9" y2="1974.7" stroke-width="3.5" stroke-linecap="round"/>
<line x1="968.9" y1="2066.5" x2="968.9" y2="2284.4" stroke-width="3.5" stroke-linecap="round"/>
<line x1="782.8" y1="2020.6" x2="1143.3" y2="2020.6" stroke-width="3.5" stroke-linecap="round"/>
<path d="M896.9,2020.6 L839.9,2030.1 L839.9,2011.1 Z" fill="#0a0c0a" stroke="none"/>
<path d="M946.7,2020.6 L1003.7,2011.1 L1003.7,2030.1 Z" fill="#0a0c0a" stroke="none"/>
<text transform="translate(1063.80,1983.70) rotate(0) scale(0.8822,1)" font-size="63.68" text-anchor="middle" dominant-baseline="central">5,3</text>
<line x1="641.3" y1="2142.5" x2="922.1" y2="2142.5" stroke-width="3.5" stroke-linecap="round"/>
<path d="M641.3,2142.5 L698.3,2133.0 L698.3,2152.0 Z" fill="#0a0c0a" stroke="none"/>
<path d="M922.1,2142.5 L865.1,2152.0 L865.1,2133.0 Z" fill="#0a0c0a" stroke="none"/>
<text transform="translate(729.40,2107.10) rotate(0) scale(0.9221,1)" font-size="65.05" text-anchor="middle" dominant-baseline="central">30</text>
<text transform="translate(822.80,2113.20) rotate(0) scale(0.9085,1)" font-size="44.07" text-anchor="middle" dominant-baseline="central">±0,1</text>
<line x1="594.4" y1="2266.4" x2="968.9" y2="2266.4" stroke-width="3.5" stroke-linecap="round"/>
<path d="M594.4,2266.4 L651.4,2256.9 L651.4,2275.9 Z" fill="#0a0c0a" stroke="none"/>
<path d="M968.9,2266.4 L911.9,2275.9 L911.9,2256.9 Z" fill="#0a0c0a" stroke="none"/>
<text transform="translate(755.60,2230.00) rotate(0) scale(0.9480,1)" font-size="63.60" text-anchor="middle" dominant-baseline="central">40</text>
<text transform="translate(827.10,2186.00) rotate(0) scale(0.8528,1)" font-size="44.52" text-anchor="middle" dominant-baseline="central">+1</text>
<line x1="470.0" y1="1790.5" x2="593.0" y2="1790.5" stroke-width="3.5" stroke-linecap="round"/>
<line x1="1598.7" y1="596.5" x2="1598.7" y2="712.4" stroke-width="3.5" stroke-linecap="round"/>
<line x1="1748.0" y1="596.5" x2="1748.0" y2="712.4" stroke-width="3.5" stroke-linecap="round"/>
<line x1="1598.7" y1="615.6" x2="1748.0" y2="615.6" stroke-width="3.5" stroke-linecap="round"/>
<path d="M1598.7,615.6 L1655.7,606.1 L1655.7,625.1 Z" fill="#0a0c0a" stroke="none"/>
<path d="M1748.0,615.6 L1691.0,625.1 L1691.0,606.1 Z" fill="#0a0c0a" stroke="none"/>
<text transform="translate(1672.80,579.50) rotate(0) scale(0.9144,1)" font-size="64.11" text-anchor="middle" dominant-baseline="central">16</text>
<line x1="1598.7" y1="804.5" x2="1598.7" y2="1165.0" stroke-width="3.5" stroke-linecap="round"/>
<line x1="1748.0" y1="804.5" x2="1748.0" y2="972.0" stroke-width="3.5" stroke-linecap="round"/>
<line x1="1748.0" y1="993.0" x2="1748.0" y2="1018.5" stroke-width="3.5" stroke-linecap="round"/>
<line x1="1748.0" y1="1041.0" x2="1748.0" y2="1165.0" stroke-width="3.5" stroke-linecap="round"/>
<line x1="1701.3" y1="737.8" x2="1701.3" y2="911.0" stroke-width="3.5" stroke-linecap="round"/>
<line x1="1795.0" y1="737.8" x2="1795.0" y2="911.0" stroke-width="3.5" stroke-linecap="round"/>
<line x1="1588.6" y1="758.5" x2="2034.7" y2="758.5" stroke-width="3.5" stroke-linecap="round"/>
<path d="M1701.3,758.5 L1644.3,768.0 L1644.3,749.0 Z" fill="#0a0c0a" stroke="none"/>
<path d="M1795.0,758.5 L1852.0,749.0 L1852.0,768.0 Z" fill="#0a0c0a" stroke="none"/>
<text transform="translate(1962.70,721.10) rotate(0) scale(0.8972,1)" font-size="65.90" text-anchor="middle" dominant-baseline="central">Ø10</text>
<path d="M1702.5,953.5 L1702.5,911.5 L1793.5,911.5 L1793.5,953.5" stroke-width="6.8" fill="none" />
<path d="M1702.5,911.5 A53,53 0 0 1 1793.5,911.5" stroke-width="6.8" fill="none" />
<path d="M1600.0,988.8 L1600.0,969 Q1600.0,951.3 1618.5,951.3 L1681.5,951.3 L1681.5,978.4 L1669.5,988.8 Z" stroke-width="1" fill="#0a0c0a" />
<rect x="1608.0" y="962.5" width="20.5" height="6.0" fill="#fff" stroke="none"/>
<rect x="1633.5" y="962.5" width="17.5" height="6.0" fill="#fff" stroke="none"/>
<rect x="1608.0" y="970.5" width="43.0" height="6.5" fill="#fff" stroke="none"/>
<rect x="1659.5" y="963.0" width="8.0" height="13.0" fill="#fff" stroke="none"/>
<rect x="1672.5" y="963.0" width="5.5" height="13.0" fill="#fff" stroke="none"/>
<line x1="1603.5" y1="988.0" x2="1605.0" y2="1141.0" stroke-width="6.8" stroke-linecap="round"/>
<line x1="1617.0" y1="989.0" x2="1619.0" y2="1139.0" stroke-width="3.7" stroke-linecap="round"/>
<line x1="1631.5" y1="946.0" x2="1631.5" y2="1010.0" stroke-width="4.1" stroke-linecap="round"/>
<line x1="1631.5" y1="1031.0" x2="1631.5" y2="1057.0" stroke-width="4.1" stroke-linecap="round"/>
<line x1="1631.5" y1="1079.0" x2="1631.5" y2="1139.0" stroke-width="4.1" stroke-linecap="round"/>
<line x1="1604.0" y1="1141.0" x2="1604.0" y2="1165.0" stroke-width="6.8" stroke-linecap="round"/>
<line x1="1626.0" y1="1141.0" x2="1626.0" y2="1165.0" stroke-width="3.7" stroke-linecap="round"/>
<path d="M1896.4,988.8 L1896.4,969 Q1896.4,951.3 1877.9,951.3 L1814.9,951.3 L1814.9,978.4 L1826.9,988.8 Z" stroke-width="1" fill="#0a0c0a" />
<rect x="1867.9" y="962.5" width="20.5" height="6.0" fill="#fff" stroke="none"/>
<rect x="1845.4" y="962.5" width="17.5" height="6.0" fill="#fff" stroke="none"/>
<rect x="1845.4" y="970.5" width="43.0" height="6.5" fill="#fff" stroke="none"/>
<rect x="1828.9" y="963.0" width="8.0" height="13.0" fill="#fff" stroke="none"/>
<rect x="1818.4" y="963.0" width="5.5" height="13.0" fill="#fff" stroke="none"/>
<line x1="1892.9" y1="988.0" x2="1891.4" y2="1141.0" stroke-width="6.8" stroke-linecap="round"/>
<line x1="1879.4" y1="989.0" x2="1877.4" y2="1139.0" stroke-width="3.7" stroke-linecap="round"/>
<line x1="1864.9" y1="946.0" x2="1864.9" y2="1010.0" stroke-width="4.1" stroke-linecap="round"/>
<line x1="1864.9" y1="1031.0" x2="1864.9" y2="1057.0" stroke-width="4.1" stroke-linecap="round"/>
<line x1="1864.9" y1="1079.0" x2="1864.9" y2="1139.0" stroke-width="4.1" stroke-linecap="round"/>
<line x1="1892.4" y1="1141.0" x2="1892.4" y2="1165.0" stroke-width="6.8" stroke-linecap="round"/>
<line x1="1870.4" y1="1141.0" x2="1870.4" y2="1165.0" stroke-width="3.7" stroke-linecap="round"/>
<line x1="1682.2" y1="954.3" x2="1814.2" y2="954.3" stroke-width="6.8" stroke-linecap="round"/>
<line x1="1682.2" y1="969.1" x2="1814.2" y2="969.1" stroke-width="3.7" stroke-linecap="round"/>
<line x1="1601.2" y1="1141.0" x2="1895.2" y2="1141.0" stroke-width="6.8" stroke-linecap="butt"/>
<path d="M1598.5,1165 L1598.5,1856 L1897.2,1856 L1897.2,1165 Z" stroke-width="7.3999999999999995" fill="none" />
<line x1="1598.0" y1="1188.0" x2="1897.0" y2="1188.0" stroke-width="3.7" stroke-linecap="round"/>
<line x1="1598.0" y1="1833.8" x2="1897.0" y2="1833.8" stroke-width="3.7" stroke-linecap="round"/>
<rect x="1606.5" y="1857.0" width="283.0" height="9.0" fill="#0a0c0a" stroke="none"/>
<line x1="1600.8" y1="1270.0" x2="1600.8" y2="1298.0" stroke-width="9" stroke-linecap="round"/>
<line x1="1600.8" y1="1720.0" x2="1600.8" y2="1755.0" stroke-width="9" stroke-linecap="round"/>
<path d="M1897.2,1165 L1974,1165 Q1988.6,1165 1988.6,1180 L1988.6,1841 Q1988.6,1856 1974,1856 L1897.2,1856" stroke-width="6.8" fill="none" />
<line x1="1972.9" y1="1165.0" x2="1972.9" y2="1856.0" stroke-width="3.7" stroke-linecap="round"/>
<line x1="1897.0" y1="1178.3" x2="1984.0" y2="1178.3" stroke-width="3.7" stroke-linecap="round"/>
<line x1="1897.0" y1="1239.6" x2="1984.0" y2="1239.6" stroke-width="3.7" stroke-linecap="round"/>
<line x1="1897.0" y1="1300.9" x2="1984.0" y2="1300.9" stroke-width="3.7" stroke-linecap="round"/>
<line x1="1897.0" y1="1722.0" x2="1984.0" y2="1722.0" stroke-width="3.7" stroke-linecap="round"/>
<line x1="1897.0" y1="1781.1" x2="1984.0" y2="1781.1" stroke-width="3.7" stroke-linecap="round"/>
<line x1="1897.0" y1="1843.1" x2="1984.0" y2="1843.1" stroke-width="3.7" stroke-linecap="round"/>
<path d="M1897,1287 L1972,1287 Q1984,1287 1985,1299" stroke-width="6.8" fill="none" />
<path d="M1897,1734.8 L1972,1734.8 Q1984,1734.8 1985,1722" stroke-width="6.8" fill="none" />
<line x1="1990.0" y1="1199.0" x2="1990.0" y2="1232.0" stroke-width="7" stroke-linecap="round"/>
<line x1="1990.0" y1="1788.0" x2="1990.0" y2="1821.0" stroke-width="7" stroke-linecap="round"/>
<line x1="1879.2" y1="1215.6" x2="1910.4" y2="1215.6" stroke-width="3.5" stroke-linecap="round"/>
<line x1="1932.0" y1="1215.6" x2="1958.5" y2="1215.6" stroke-width="3.5" stroke-linecap="round"/>
<line x1="1980.0" y1="1215.6" x2="2011.4" y2="1215.6" stroke-width="3.5" stroke-linecap="round"/>
<line x1="1864.4" y1="1804.5" x2="1902.0" y2="1804.5" stroke-width="3.5" stroke-linecap="round"/>
<line x1="1925.0" y1="1804.5" x2="1951.0" y2="1804.5" stroke-width="3.5" stroke-linecap="round"/>
<line x1="1975.0" y1="1804.5" x2="2011.0" y2="1804.5" stroke-width="3.5" stroke-linecap="round"/>
<rect x="1636.2" y="1296" width="242.3" height="400.7" rx="17" ry="17" stroke-width="5.8" fill="none"/>
<path d="M1839.4,1311.8 L1863.3,1311.8 L1863.3,1334.7" stroke-width="9.5" fill="none" stroke-linecap="round" stroke-linejoin="round"/>
<line x1="1748.2" y1="1762.0" x2="1748.2" y2="1794.0" stroke-width="3.5" stroke-linecap="round"/>
<line x1="1748.2" y1="1816.0" x2="1748.2" y2="1842.0" stroke-width="3.5" stroke-linecap="round"/>
<line x1="1598.0" y1="1856.0" x2="1598.0" y2="2005.2" stroke-width="3.5" stroke-linecap="round"/>
<line x1="1748.3" y1="1861.0" x2="1748.3" y2="2005.2" stroke-width="3.5" stroke-linecap="round"/>
<line x1="1598.0" y1="1985.5" x2="1748.3" y2="1985.5" stroke-width="3.5" stroke-linecap="round"/>
<path d="M1598.0,1985.5 L1655.0,1976.0 L1655.0,1995.0 Z" fill="#0a0c0a" stroke="none"/>
<path d="M1748.3,1985.5 L1691.3,1995.0 L1691.3,1976.0 Z" fill="#0a0c0a" stroke="none"/>
<text transform="translate(1672.90,1949.60) rotate(0) scale(0.9242,1)" font-size="63.86" text-anchor="middle" dominant-baseline="central">16</text>
<line x1="1800.0" y1="1916.0" x2="1839.0" y2="1968.5" stroke-width="3.5" stroke-linecap="round"/>
<path d="M1768.5,1874.1 L1811.1,1916.5 L1797.0,1927.0 Z" fill="#0a0c0a" stroke="none"/>
<text transform="translate(1961.20,1996.90) rotate(0) scale(0.9147,1)" font-size="64.47" text-anchor="middle" dominant-baseline="central">M20x1,5</text>
</g></svg></body></html>
